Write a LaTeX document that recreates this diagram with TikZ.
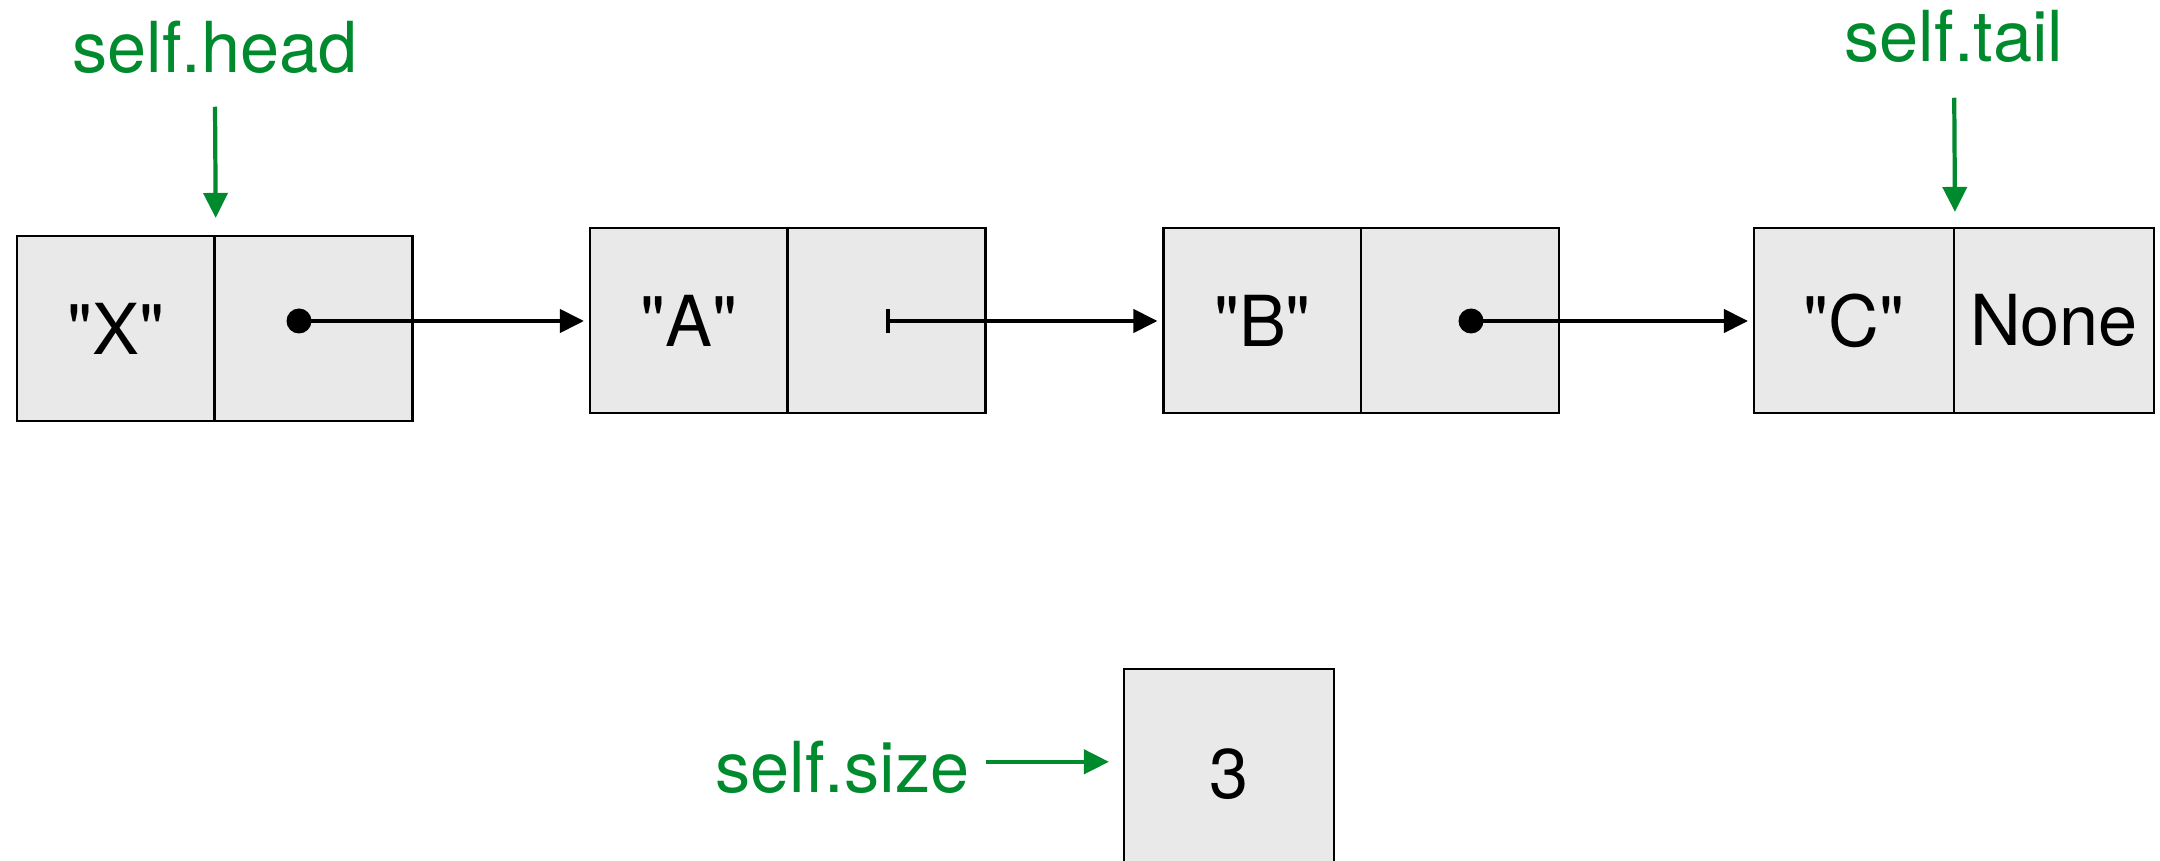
\documentclass[tikz,border=0pt]{standalone}
\usepackage{fontspec}
\newfontfamily\cellfont{TeX Gyre Heros}
\usetikzlibrary{arrows.meta}

\definecolor{ptrgreen}{RGB}{0,138,46}
\definecolor{cellgray}{RGB}{233,233,233}

\tikzset{
  ptrtip/.tip={Triangle[length=0.24cm,width=0.23cm]},
  cell/.style={draw, line width=0.6pt, fill=cellgray, minimum width=1.98cm,
    minimum height=1.85cm, inner sep=0pt, font=\cellfont\fontsize{20}{24}\selectfont},
  ptrdot/.style={circle, fill=black, minimum size=0.25cm, inner sep=0pt},
  link/.style={line width=1.2pt, -ptrtip, shorten >=0.05cm},
  varlabel/.style={text=ptrgreen, inner sep=0pt, font=\cellfont\fontsize{20}{24}\selectfont},
  varptr/.style={draw=ptrgreen, line width=1.2pt,
    -{Triangle[length=0.25cm,width=0.24cm]}},
}

\begin{document}
\begin{tikzpicture}
\useasboundingbox (0,0) rectangle (21.6,8.6);
\clip (0,0) rectangle (21.6,8.6);

% Nodes of the list
\node[cell] (xval)  at (1.158,5.315) {"X"};
\node[cell] (xnext) at (3.135,5.315) {};
\node[cell] (aval)  at (6.89,5.395) {"A"};
\node[cell] (anext) at (8.865,5.395) {};
\node[cell] (bval)  at (12.625,5.395) {"B"};
\node[cell] (bnext) at (14.60,5.395) {};
\node[cell, minimum width=2cm] (cval)  at (18.54,5.395) {"C"};
\node[cell, minimum width=2cm] (cnext) at (20.54,5.395) {None};

% Next pointers
\node[ptrdot] (xdot) at (2.99,5.39) {};
\coordinate (abar) at (8.86,5.39);
\node[ptrdot] (bdot) at (14.71,5.39) {};

\draw[link] (xdot.center) -- (xdot.center -| aval.west);
\draw[link, {Bar[width=0.24cm]}-ptrtip] (abar) -- (abar -| bval.west);
\draw[link] (bdot.center) -- (bdot.center -| cval.west);

% Head and tail references
\node[varlabel, anchor=base] (headlbl) at (2.148,7.87) {self.head};
\node[varlabel, anchor=base] (taillbl) at (19.54,7.98) {self.tail};

\draw[varptr, shorten <=0.32cm, shorten >=0.17cm] (headlbl.south) -- (xval.north east);
\draw[varptr, shorten <=0.34cm, shorten >=0.15cm] (taillbl.south) -- (cval.north east);

% Size counter
\node[cell, minimum width=2.1cm, minimum height=2.1cm] (cnt) at (12.29,0.86) {3};
\node[varlabel, anchor=base east] (sizelbl) at (9.70,0.68) {self.size};

\draw[varptr, shorten <=0.16cm, shorten >=0.14cm]
  ([yshift=0.05cm]sizelbl.east) -- ([yshift=0.05cm]sizelbl.east -| cnt.west);
\end{tikzpicture}
\end{document}
